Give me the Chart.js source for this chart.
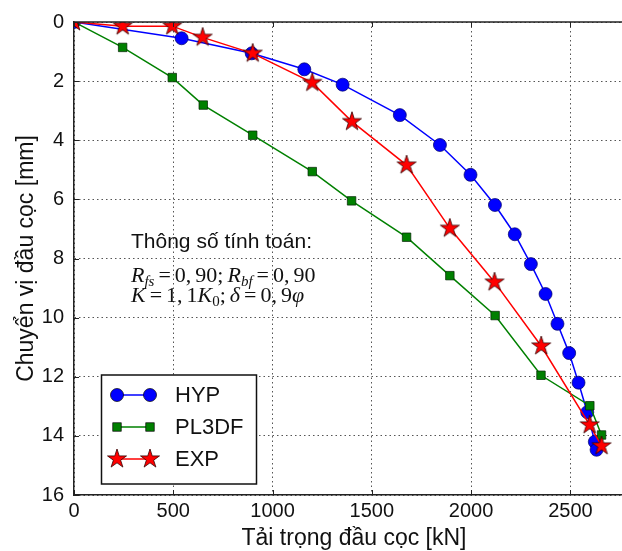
<!DOCTYPE html>
<html>
<head>
<meta charset="utf-8">
<script src="https://cdn.jsdelivr.net/npm/chart.js@4/dist/chart.umd.min.js"></script>
<style>
  html, body { margin: 0; padding: 0; background: #fff; }
  #box { width: 622px; height: 551px; }
</style>
</head>
<body>
<div id="box"><canvas id="chart" width="622" height="551"></canvas></div>
<script>
// === DATA ===
const xTicks = [0, 500, 1000, 1500, 2000, 2500];
const yTicks = [0, 2, 4, 6, 8, 10, 12, 14, 16];

const hypLoad = [0, 542, 895, 1160, 1353, 1641, 1843, 1997, 2120, 2220, 2301, 2375, 2435, 2494, 2541, 2585, 2623, 2632];
const hypDisp = [0, 0.55, 1.06, 1.6, 2.12, 3.15, 4.16, 5.17, 6.19, 7.18, 8.19, 9.2, 10.21, 11.2, 12.2, 13.2, 14.2, 14.47];

const pl3dfLoad = [0, 245, 495, 651, 900, 1200, 1398, 1675, 1893, 2121, 2352, 2598, 2657];
const pl3dfDisp = [0, 0.86, 1.88, 2.81, 3.83, 5.06, 6.05, 7.28, 8.58, 9.93, 11.95, 12.98, 13.97];

const expLoad = [0, 245, 495, 648, 900, 1200, 1400, 1675, 1893, 2118, 2353, 2597, 2657];
const expDisp = [0, 0.14, 0.14, 0.52, 1.06, 2.05, 3.37, 4.84, 6.98, 8.8, 10.96, 13.63, 14.34];

const seriesNames = ["HYP", "PL3DF", "EXP"];

const FONT = "'Liberation Sans', Arial, sans-serif";
const SERIF = "'Liberation Serif', 'DejaVu Serif', serif";

// red star marker (matplotlib '*')
function starPath(ctx, cx, cy, R) {
  const r = R * 0.382;
  ctx.beginPath();
  for (let i = 0; i < 10; i++) {
    const ang = -Math.PI / 2 + i * Math.PI / 5;
    const rad = i % 2 ? r : R;
    ctx.lineTo(cx + rad * Math.cos(ang), cy + rad * Math.sin(ang));
  }
  ctx.closePath();
}
function makeStar(R) {
  const c = document.createElement("canvas");
  c.width = c.height = Math.ceil(2 * R + 4);
  const g = c.getContext("2d");
  starPath(g, c.width / 2, c.height / 2, R);
  g.fillStyle = "#ff0000";
  g.fill();
  g.lineWidth = 0.8;
  g.strokeStyle = "#330000";
  g.stroke();
  return c;
}
const starImg = makeStar(10);

const pts = (xs, ys) => xs.map((x, i) => ({ x, y: ys[i] }));

// === extra drawing: top spine, inner ticks, text box, legend, axis titles ===
const decor = {
  id: "decor",
  afterDraw(chart) {
    const ctx = chart.ctx;
    const a = chart.chartArea;
    const xs = chart.scales.x, ys = chart.scales.y;
    ctx.save();

    // top spine
    ctx.strokeStyle = "#222";
    ctx.lineWidth = 1.5;
    ctx.beginPath();
    ctx.moveTo(a.left, a.top);
    ctx.lineTo(chart.width, a.top);
    ctx.stroke();

    // inner ticks
    ctx.lineWidth = 1;
    ctx.beginPath();
    xTicks.forEach(v => {
      const px = Math.round(xs.getPixelForValue(v)) + 0.5;
      ctx.moveTo(px, a.bottom); ctx.lineTo(px, a.bottom - 5);
      ctx.moveTo(px, a.top); ctx.lineTo(px, a.top + 5);
    });
    yTicks.forEach(v => {
      const py = Math.round(ys.getPixelForValue(v)) + 0.5;
      ctx.moveTo(a.left, py); ctx.lineTo(a.left + 5, py);
    });
    ctx.stroke();

    // annotation
    ctx.fillStyle = "#111";
    ctx.textBaseline = "alphabetic";
    ctx.textAlign = "left";
    ctx.font = "21px " + FONT;
    ctx.fillText("Thông số tính toán:", 131, 248);

    const it = "italic 22px " + SERIF, rm = "22px " + SERIF;
    const itS = "italic 15px " + SERIF, rmS = "15px " + SERIF;
    const runs = (x, y, list) => {
      list.forEach(r => {
        if (r.gap) { x += r.gap; return; }
        ctx.font = r.f;
        ctx.fillText(r.t, x, y + (r.dy || 0));
        x += ctx.measureText(r.t).width;
      });
    };
    runs(131, 282, [
      { t: "R", f: it }, { t: "fs", f: itS, dy: 4 }, { gap: 4 }, { t: "=", f: rm }, { gap: 4 },
      { t: "0,", f: rm }, { gap: 4 }, { t: "90;", f: rm }, { gap: 4 },
      { t: "R", f: it }, { t: "bf", f: itS, dy: 4 }, { gap: 4 }, { t: "=", f: rm }, { gap: 4 },
      { t: "0,", f: rm }, { gap: 4 }, { t: "90", f: rm }
    ]);
    runs(131, 302, [
      { t: "K", f: it }, { gap: 4 }, { t: "=", f: rm }, { gap: 4 },
      { t: "1,", f: rm }, { gap: 4 }, { t: "1", f: rm }, { t: "K", f: it }, { t: "0", f: rmS, dy: 4 },
      { t: ";", f: rm }, { gap: 4 }, { t: "δ", f: it }, { gap: 4 }, { t: "=", f: rm }, { gap: 4 },
      { t: "0,", f: rm }, { gap: 4 }, { t: "9", f: rm }, { t: "φ", f: it }
    ]);

    // legend box
    ctx.fillStyle = "#fff";
    ctx.fillRect(101.5, 375, 155, 109);
    ctx.strokeStyle = "#111";
    ctx.lineWidth = 1.5;
    ctx.strokeRect(101.5, 375, 155, 109);

    const rowsY = [395, 427, 459];
    const colors = ["#0000ff", "#008000", "#ff0000"];
    rowsY.forEach((y, i) => {
      ctx.strokeStyle = colors[i];
      ctx.lineWidth = 1.5;
      ctx.beginPath();
      ctx.moveTo(117, y); ctx.lineTo(150, y);
      ctx.stroke();
      [117, 150].forEach(mx => {
        ctx.fillStyle = colors[i];
        ctx.strokeStyle = "#000";
        ctx.lineWidth = 0.7;
        if (i === 0) {
          ctx.beginPath(); ctx.arc(mx, y, 6.5, 0, Math.PI * 2); ctx.fill(); ctx.stroke();
        } else if (i === 1) {
          ctx.fillRect(mx - 4.2, y - 4.2, 8.4, 8.4); ctx.strokeRect(mx - 4.2, y - 4.2, 8.4, 8.4);
        } else {
          ctx.drawImage(starImg, mx - starImg.width / 2, y - starImg.height / 2);
        }
      });
      ctx.fillStyle = "#111";
      ctx.font = "22px " + FONT;
      ctx.textBaseline = "middle";
      ctx.fillText(seriesNames[i], 175, y + 1);
    });

    // axis titles
    ctx.fillStyle = "#111";
    ctx.font = "23px " + FONT;
    ctx.textAlign = "center";
    ctx.textBaseline = "alphabetic";
    ctx.fillText("Tải trọng đầu cọc [kN]", 354, 545);

    ctx.translate(33, (a.top + a.bottom) / 2);
    ctx.rotate(-Math.PI / 2);
    ctx.fillText("Chuyển vị đầu cọc [mm]", 0, 0);

    ctx.restore();
  }
};

new Chart(document.getElementById("chart"), {
  type: "line",
  data: {
    datasets: [
      {
        label: seriesNames[0], data: pts(hypLoad, hypDisp), order: 2,
        borderColor: "#0000ff", borderWidth: 1.5,
        pointStyle: "circle", pointRadius: 6.5, pointBackgroundColor: "#0000ff",
        pointBorderColor: "#000066", pointBorderWidth: 0.7
      },
      {
        label: seriesNames[1], data: pts(pl3dfLoad, pl3dfDisp), order: 1,
        borderColor: "#008000", borderWidth: 1.5,
        pointStyle: "rect", pointRadius: 6, pointBackgroundColor: "#008000",
        pointBorderColor: "#002200", pointBorderWidth: 0.7
      },
      {
        label: seriesNames[2], data: pts(expLoad, expDisp), order: 0,
        borderColor: "#ff0000", borderWidth: 1.5,
        pointStyle: starImg, pointRadius: 10,
        pointBackgroundColor: "#ff0000"
      }
    ]
  },
  options: {
    responsive: false,
    devicePixelRatio: 1,
    animation: false,
    layout: { autoPadding: false, padding: { top: 22, right: 0, left: 0, bottom: 0 } },
    plugins: { legend: { display: false }, tooltip: { enabled: false } },
    elements: { line: { tension: 0 } },
    scales: {
      x: {
        type: "linear", min: 0, max: 2760,
        afterBuildTicks: s => { s.ticks = xTicks.map(v => ({ value: v })); },
        afterFit: s => { s.height = 56; },
        ticks: { padding: 4, color: "#111", font: { family: FONT, size: 20 }, callback: v => String(v) },
        grid: { color: "#555", lineWidth: 1, drawTicks: false },
        border: { display: true, color: "#222", width: 1.5, dash: [1.5, 3] }
      },
      y: {
        type: "linear", reverse: true, min: 0, max: 16,
        afterBuildTicks: s => { s.ticks = yTicks.map(v => ({ value: v })); },
        afterFit: s => { s.width = 74; },
        ticks: { padding: 10, color: "#111", font: { family: FONT, size: 20 }, callback: v => String(v) },
        grid: { color: "#555", lineWidth: 1, drawTicks: false },
        border: { display: true, color: "#222", width: 1.5, dash: [1.5, 3] }
      }
    }
  },
  plugins: [decor]
});
</script>
</body>
</html>
